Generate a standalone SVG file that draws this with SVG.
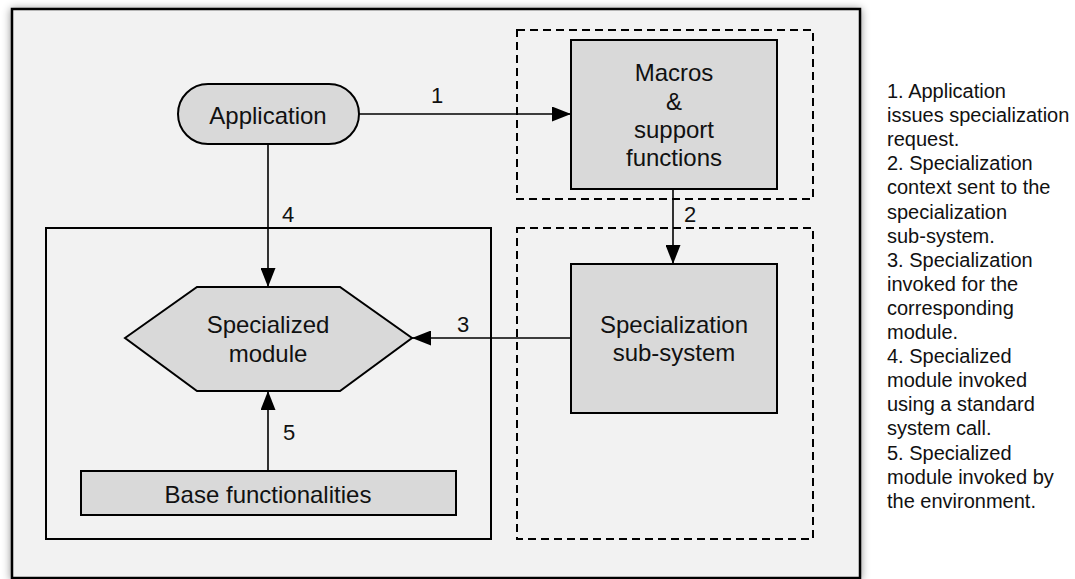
<svg xmlns="http://www.w3.org/2000/svg" width="1075" height="579" viewBox="0 0 1075 579">
<style>
.node{fill:#d9d9d9;stroke:#000;stroke-width:2}
.dash{fill:none;stroke:#000;stroke-width:2;stroke-dasharray:8,5}
.t{font-family:"Liberation Sans",Arial,sans-serif;font-size:24px;fill:#111;text-anchor:middle}
.lbl{font-family:"Liberation Sans",Arial,sans-serif;font-size:22px;fill:#111;text-anchor:middle}
.leg{font-family:"Liberation Sans",Arial,sans-serif;font-size:20px;fill:#111}
.conn{stroke:#000;stroke-width:1.6;fill:none;marker-end:url(#ah)}
</style>
<defs>
<marker id="ah" viewBox="0 0 19 15" refX="19" refY="7.5" markerWidth="19" markerHeight="15" markerUnits="userSpaceOnUse" orient="auto">
<path d="M0,0 L19,7.5 L0,15 Z" fill="#000"/>
</marker>
<filter id="sh" x="-5%" y="-5%" width="110%" height="110%">
<feDropShadow dx="0" dy="1" stdDeviation="4" flood-color="#000" flood-opacity="0.45"/>
</filter>
</defs>
<rect width="1075" height="579" fill="#fff"/>
<g id="frame">
<rect x="12" y="9" width="848" height="569" fill="#f2f2f2" stroke="#000" stroke-width="2.5" filter="url(#sh)"/>
</g>
<g id="group-macros">
<rect class="dash" x="517" y="30" width="296" height="169"/>
</g>
<g id="group-subsystem">
<rect class="dash" x="517" y="228" width="296" height="311"/>
</g>
<g id="group-module">
<rect x="46" y="228" width="445" height="311" fill="#f2f2f2" stroke="#000" stroke-width="2"/>
</g>
<g id="application">
<rect class="node" x="178" y="84" width="181" height="60" rx="30"/>
<text class="t" x="268" y="124">Application</text>
</g>
<g id="macros">
<rect class="node" x="571" y="40" width="206" height="149"/>
<text class="t" x="674" y="81">Macros</text>
<text class="t" x="674" y="110">&amp;</text>
<text class="t" x="674" y="138">support</text>
<text class="t" x="674" y="166">functions</text>
</g>
<g id="specialization-subsystem">
<rect class="node" x="571" y="264" width="206" height="149"/>
<text class="t" x="674" y="333">Specialization</text>
<text class="t" x="674" y="361">sub-system</text>
</g>
<g id="specialized-module">
<polygon class="node" points="125,338 197,287 340,287 412,338 340,391 197,391"/>
<text class="t" x="268" y="333">Specialized</text>
<text class="t" x="268" y="362">module</text>
</g>
<g id="base-functionalities">
<rect class="node" x="81" y="471" width="375" height="44" stroke-width="1.5"/>
<text class="t" x="268" y="503">Base functionalities</text>
</g>
<g id="connectors">
<line class="conn" x1="359" y1="114" x2="571" y2="114"/>
<line class="conn" x1="673" y1="189" x2="673" y2="264"/>
<line class="conn" x1="571" y1="338" x2="412" y2="338"/>
<line class="conn" x1="268" y1="144" x2="268" y2="287"/>
<line class="conn" x1="268" y1="471" x2="268" y2="391"/>
<text class="lbl" x="437" y="103">1</text>
<text class="lbl" x="690" y="222">2</text>
<text class="lbl" x="463" y="332">3</text>
<text class="lbl" x="288" y="222">4</text>
<text class="lbl" x="289" y="440">5</text>
</g>
<g id="legend">
<text class="leg" x="887" y="98">
<tspan x="887" dy="0">1. Application</tspan>
<tspan x="887" dy="24.1">issues specialization</tspan>
<tspan x="887" dy="24.1">request.</tspan>
<tspan x="887" dy="24.1">2. Specialization</tspan>
<tspan x="887" dy="24.1">context sent to the</tspan>
<tspan x="887" dy="24.1">specialization</tspan>
<tspan x="887" dy="24.1">sub-system.</tspan>
<tspan x="887" dy="24.1">3. Specialization</tspan>
<tspan x="887" dy="24.1">invoked for the</tspan>
<tspan x="887" dy="24.1">corresponding</tspan>
<tspan x="887" dy="24.1">module.</tspan>
<tspan x="887" dy="24.1">4. Specialized</tspan>
<tspan x="887" dy="24.1">module invoked</tspan>
<tspan x="887" dy="24.1">using a standard</tspan>
<tspan x="887" dy="24.1">system call.</tspan>
<tspan x="887" dy="24.1">5. Specialized</tspan>
<tspan x="887" dy="24.1">module invoked by</tspan>
<tspan x="887" dy="24.1">the environment.</tspan>
</text>
</g>
</svg>
